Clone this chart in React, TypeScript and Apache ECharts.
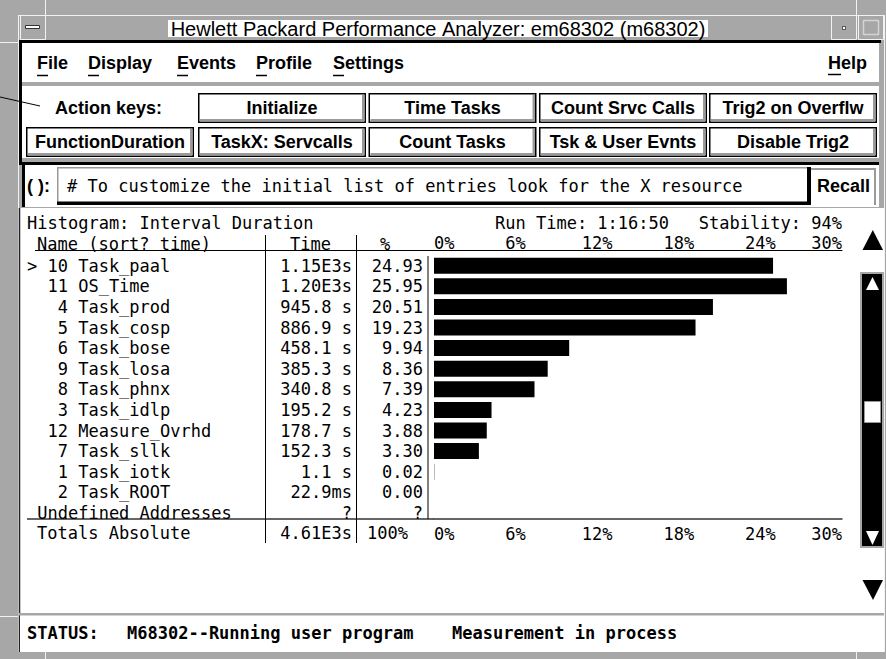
import React, { useEffect, useRef } from 'react';
import * as echarts from 'echarts';

// ---------------- data ----------------
const windowTitle = 'Hewlett Packard Performance Analyzer: em68302 (m68302)';
const menuItems = ['File', 'Display', 'Events', 'Profile', 'Settings'];
const helpItem = 'Help';
const actionLabel = 'Action keys:';
const actionKeysRow1 = ['Initialize', 'Time Tasks', 'Count Srvc Calls', 'Trig2 on Overflw'];
const actionKeysRow2 = ['FunctionDuration', 'TaskX: Servcalls', 'Count Tasks', 'Tsk & User Evnts', 'Disable Trig2'];
const commandPrompt = '( ):';
const commandText = '# To customize the initial list of entries look for the X resource';
const recallLabel = 'Recall';
const histogramTitle = 'Histogram: Interval Duration';
const runTimeText = 'Run Time: 1:16:50';
const stabilityText = 'Stability: 94%';
const headerName = 'Name (sort? time)';
const headerTime = 'Time';
const headerPct = '%';
const rowLabels = [
  '> 10 Task_paal',
  '  11 OS_Time',
  '   4 Task_prod',
  '   5 Task_cosp',
  '   6 Task_bose',
  '   9 Task_losa',
  '   8 Task_phnx',
  '   3 Task_idlp',
  '  12 Measure_Ovrhd',
  '   7 Task_sllk',
  '   1 Task_iotk',
  '   2 Task_ROOT',
  ' Undefined Addresses',
];
const rowTimes = ['1.15E3s', '1.20E3s', '945.8 s', '886.9 s', '458.1 s', '385.3 s', '340.8 s', '195.2 s', '178.7 s', '152.3 s', '1.1 s', '22.9ms', '?'];
const rowPercents: (number | null)[] = [24.93, 25.95, 20.51, 19.23, 9.94, 8.36, 7.39, 4.23, 3.88, 3.3, 0.02, 0.0, null];
const axisMin = 0;
const axisMax = 30;
const axisStep = 6;
const totalsLabel = 'Totals Absolute';
const totalsTime = '4.61E3s';
const totalsPct = '100%';
const statusItems = ['STATUS:', 'M68302--Running user program', 'Measurement in process'];

// ---------------- layout / style ----------------
const MONO = '"DejaVu Sans Mono", "Liberation Mono", monospace';
const SANS = '"Liberation Sans", Arial, "Noto Sans", sans-serif';
const F_TITLE = `20px ${SANS}`;
const F_MENU = `bold 18px ${SANS}`;
const F_BTN = `bold 18px ${SANS}`;
const F_MONO = `17px ${MONO}`;
const F_MONO_B = `bold 17px ${MONO}`;
const MENU_X = [37, 88, 177, 256, 333];
const BTN_X = [26, 198, 368.5, 539, 709];
const BTN_W = 168;
const BTN_H = 30;
const ROW1_Y = 93;
const ROW2_Y = 127;
const GRAY = '#a7a7a7';
const SHADE = '#9a9a9a';
const HILITE = '#f2f2f2';

const nb = (s: string) => s.replace(/ /g, '\u00a0');

const Z = -5;
function rect(x: number, y: number, w: number, h: number, fill: any, extra: any = {}) {
  return { type: 'rect', z: Z, silent: true, shape: { x, y, width: w, height: h }, style: { fill, ...extra } };
}
function line(x1: number, y1: number, x2: number, y2: number, stroke: string, lw = 1, extra: any = {}) {
  return { type: 'line', z: Z, silent: true, shape: { x1, y1, x2, y2 }, style: { stroke, lineWidth: lw, ...extra } };
}
function poly(points: number[][], fill: string, extra: any = {}) {
  return { type: 'polygon', z: Z, silent: true, shape: { points }, style: { fill, ...extra } };
}
function txt(t: string, x: number, y: number, font: string, align = 'left', fill = '#000') {
  return {
    type: 'text',
    z: Z,
    silent: true,
    x,
    y,
    style: {
      text: nb(t),
      font,
      fill,
      lineHeight: 16,
      textAlign: align,
      textVerticalAlign: 'middle',
      align,
      verticalAlign: 'middle',
    },
  };
}
function button(x: number, y: number, w: number, h: number, label: string) {
  return [
    rect(x + 0.75, y + 0.75, w - 1.5, h - 1.5, '#fff', { stroke: '#000', lineWidth: 1.5 }),
    rect(x + w - 4, y + 2, 2.5, h - 4, SHADE),
    rect(x + 2, y + h - 4, w - 4, 2.5, SHADE),
    txt(label, x + w / 2, y + h / 2, F_BTN, 'center'),
  ];
}

function buildGraphics() {
  const g: any[] = [];
  // background frame
  g.push(rect(0, 0, 886, 659, GRAY));
  g.push(line(18, 15.5, 884, 15.5, HILITE, 1));
  g.push(line(18.5, 15, 18.5, 652, HILITE, 1));
  g.push(line(884.5, 15, 884.5, 652, HILITE, 1));
  g.push(line(45.5, 0, 45.5, 15, HILITE, 1));
  g.push(line(856.5, 0, 856.5, 15, HILITE, 1));
  g.push(line(45.5, 652, 45.5, 659, HILITE, 1));
  g.push(line(856.5, 652, 856.5, 659, HILITE, 1));
  g.push(line(0, 42.5, 18, 42.5, HILITE, 1));
  g.push(line(0, 616.5, 18, 616.5, HILITE, 1));
  // title bar
  g.push(rect(20.5, 15.5, 25, 24, 'none', { stroke: HILITE, lineWidth: 1 }));
  g.push(rect(25.5, 25.5, 14, 3, '#fff', { stroke: '#333', lineWidth: 1 }));
  g.push(rect(831.5, 15.5, 25, 24, 'none', { stroke: HILITE, lineWidth: 1 }));
  g.push(rect(842.5, 26.5, 3, 3, '#fff', { stroke: '#333', lineWidth: 0.8 }));
  g.push(rect(858.5, 15.5, 25, 24, 'none', { stroke: HILITE, lineWidth: 1 }));
  g.push(rect(863.5, 20.5, 15, 14, 'none', { stroke: '#fff', lineWidth: 1.5, lineDash: [1, 1] }));
  g.push(rect(168, 20, 540, 17, '#fff'));
  g.push(txt(windowTitle, 438, 29, F_TITLE, 'center'));

  // window black border
  g.push(rect(19, 40, 862, 3, '#000'));
  g.push(rect(19, 40, 3, 125, '#000'));
  // menu bar
  g.push(rect(22, 43, 857, 39, '#fff'));
  menuItems.forEach((m, i) => {
    g.push(txt(m, MENU_X[i], 63, F_MENU, 'left'));
    g.push(line(MENU_X[i], 75.5, MENU_X[i] + 11, 75.5, '#000', 1.5));
  });
  g.push(txt(helpItem, 828, 63, F_MENU, 'left'));
  g.push(line(828, 74.5, 841, 74.5, '#000', 1.5));

  // action keys panel
  g.push(rect(22, 86, 857, 72, '#fff'));
  g.push(line(0, 97, 40, 106, '#000', 1));
  g.push(txt(actionLabel, 55, 107.5, F_BTN, 'left'));
  actionKeysRow1.forEach((k, i) => g.push(...button(BTN_X[i + 1], ROW1_Y, BTN_W, BTN_H, k)));
  actionKeysRow2.forEach((k, i) => g.push(...button(BTN_X[i], ROW2_Y, BTN_W, BTN_H, k)));

  // command panel
  g.push(rect(22, 162, 857, 3, '#000'));
  g.push(rect(22, 162, 3, 45, '#000'));
  g.push(rect(25, 165, 854, 42, '#fff'));
  g.push(txt(commandPrompt, 27, 186, F_BTN, 'left'));
  g.push(rect(57, 167, 751, 36, '#fff'));
  g.push(rect(57, 167, 751, 1.5, SHADE));
  g.push(rect(57, 167, 1.5, 36, SHADE));
  g.push(rect(807, 167, 4, 38, '#000'));
  g.push(rect(57, 201.5, 754, 3.5, '#000'));
  g.push(txt(commandText, 67, 186, F_MONO, 'left'));
  g.push(rect(811, 168, 65, 37, '#fff'));
  g.push(rect(811, 168, 65, 2, SHADE));
  g.push(rect(874, 168, 2, 37, SHADE));
  g.push(txt(recallLabel, 843.5, 186, F_BTN, 'center'));

  // histogram panel
  g.push(rect(19, 208, 865, 405, '#fff'));
  g.push(line(19.5, 208, 19.5, 652, '#222', 1.5));
  g.push(txt(histogramTitle, 27, 223, F_MONO, 'left'));
  g.push(txt(runTimeText, 495, 223, F_MONO, 'left'));
  g.push(txt(stabilityText, 842, 223, F_MONO, 'right'));
  g.push(txt(headerName, 37, 244, F_MONO, 'left'));
  g.push(txt(headerTime, 331, 244, F_MONO, 'right'));
  g.push(txt(headerPct, 380, 244, F_MONO, 'left'));
  g.push(line(35, 250.5, 434, 250.5, '#000', 1));
  g.push(line(27, 519, 434, 519, '#333', 1.5));
  g.push(line(265.5, 235, 265.5, 543, '#000', 1));
  g.push(line(356.5, 235, 356.5, 543, '#000', 1));
  g.push(line(428, 256, 428, 519, '#000', 1));
  g.push(txt(totalsLabel, 37, 533, F_MONO, 'left'));
  g.push(txt(totalsTime, 352, 533, F_MONO, 'right'));
  g.push(txt(totalsPct, 408, 533, F_MONO, 'right'));

  // scrollbar
  g.push(poly([[872.8, 230], [862.5, 250], [883, 250]], '#000'));
  g.push(rect(860, 272, 24, 276, GRAY));
  g.push(rect(862, 274, 20, 272, '#000'));
  g.push(poly([[872.5, 277], [866, 290], [879, 290]], '#fff'));
  g.push(rect(864.5, 401.5, 16, 21, '#fff', { stroke: '#999', lineWidth: 1 }));
  g.push(poly([[866, 531], [879, 531], [872.5, 545]], '#fff'));
  g.push(poly([[862.5, 580], [883, 580], [873, 600]], '#000'));

  // status panel
  g.push(rect(19, 613, 865, 2.5, GRAY));
  g.push(rect(20, 615.5, 864, 36.5, '#fff'));
  g.push(txt(statusItems[0], 27, 633, F_MONO_B, 'left'));
  g.push(txt(statusItems[1], 127, 633, F_MONO_B, 'left'));
  g.push(txt(statusItems[2], 452, 633, F_MONO_B, 'left'));
  return g;
}

function buildOption(): any {
  const pctText = (v: number | null) => (v == null ? '?' : v.toFixed(2));
  const richBase = { fontFamily: MONO, fontSize: 17, color: '#000' };
  const xLabel = {
    formatter: '{value}%',
    color: '#000',
    fontFamily: MONO,
    fontSize: 17,
    alignMinLabel: 'left',
    alignMaxLabel: 'right',
  };
  return {
    animation: false,
    backgroundColor: 'transparent',
    graphic: { elements: buildGraphics() },
    grid: [{ left: 434, top: 255.4, width: 408, height: 267.8, outerBoundsMode: 'none', containLabel: false }],
    xAxis: [
      {
        type: 'value',
        gridIndex: 0,
        position: 'top',
        offset: 4.7,
        min: axisMin,
        max: axisMax,
        interval: axisStep,
        z: 5,
        axisLine: { show: true, lineStyle: { color: '#000', width: 1 } },
        axisTick: { show: false },
        splitLine: { show: false },
        axisLabel: { ...xLabel, margin: -1 },
      },
      {
        type: 'value',
        gridIndex: 0,
        position: 'bottom',
        offset: -4.2,
        min: axisMin,
        max: axisMax,
        interval: axisStep,
        z: 5,
        axisLine: { show: true, lineStyle: { color: '#333', width: 1.5 } },
        axisTick: { show: false },
        splitLine: { show: false },
        axisLabel: { ...xLabel, margin: 6 },
      },
    ],
    yAxis: [
      {
        type: 'category',
        gridIndex: 0,
        data: rowLabels,
        inverse: true,
        z: 5,
        axisLine: { show: false },
        axisTick: { show: false },
        splitLine: { show: false },
        axisLabel: {
          interval: 0,
          margin: 11,
          align: 'right',
          formatter: (v: string, i: number) =>
            `{n|${nb(v)}}{t|${nb(rowTimes[i])}}{p|${pctText(rowPercents[i])}}`,
          rich: {
            n: { ...richBase, width: 239, align: 'left' },
            t: { ...richBase, width: 86, align: 'right' },
            p: { ...richBase, width: 71, align: 'right' },
          },
        },
      },
    ],
    series: [
      {
        type: 'bar',
        xAxisIndex: 0,
        yAxisIndex: 0,
        data: rowPercents,
        barWidth: 16,
        z: 6,
        itemStyle: { color: '#000' },
        silent: true,
      },
    ],
  };
}

export default function App() {
  const ref = useRef<HTMLDivElement>(null);
  useEffect(() => {
    const chart = echarts.init(ref.current as HTMLDivElement, null, { renderer: 'svg' });
    chart.setOption(buildOption());
    return () => chart.dispose();
  }, []);
  return <div ref={ref} style={{ position: 'absolute', left: 0, top: 0, width: 886, height: 659 }} />;
}
